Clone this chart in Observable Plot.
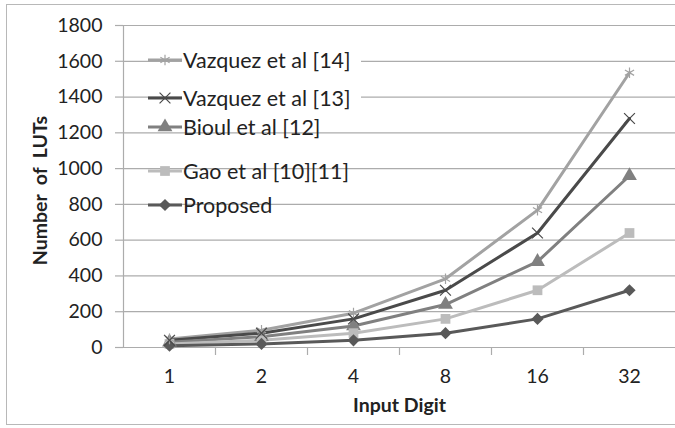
<!DOCTYPE html>
<html>
<head>
<meta charset="utf-8">
<script src="https://cdn.jsdelivr.net/npm/d3@7"></script>
<script src="https://cdn.jsdelivr.net/npm/@observablehq/plot@0.6"></script>
<style>
  html, body { margin: 0; padding: 0; background: #fff; }
  #wrap { position: relative; width: 675px; height: 428px; overflow: hidden; font-family: Lato, "Open Sans", sans-serif; }
  #frame { position: absolute; left: 6px; top: 4px; width: 680px; height: 421px; border: 1.5px solid #b8b8b8; box-sizing: border-box; pointer-events: none; }
  #legend { position: absolute; left: 0; top: 0; }
  .item { position: absolute; display: flex; align-items: center; font-size: 21.5px; color: #222; white-space: nowrap; }
  .item.bg span { background: #fff; }
  .item svg { display: block; }
</style>
</head>
<body>
<div id="wrap"><div id="frame"></div><div id="chart"></div><div id="legend"></div></div>
<script>
const categories = ["1", "2", "4", "8", "16", "32"];
const seriesNames = ["Vazquez et al [14]", "Vazquez et al [13]", "Bioul et al [12]", "Gao et al [10][11]", "Proposed"];
const vazquez14 = [48, 96, 192, 384, 768, 1536];
const vazquez13 = [40, 80, 160, 320, 640, 1280];
const bioul12 = [30, 60, 120, 240, 480, 960];
const gao1011 = [20, 40, 80, 160, 320, 640];
const proposed = [10, 20, 40, 80, 160, 320];
const yTicks = [0, 200, 400, 600, 800, 1000, 1200, 1400, 1600, 1800];

const seriesValues = [vazquez14, vazquez13, bioul12, gao1011, proposed];
const colors = ["#a2a2a2", "#4a4a4a", "#808080", "#bcbcbc", "#595959"];
const symbols = ["asterisk", "times", "triangle", "square", "diamond2"];
const symbolSizes = [5, 5, 5.5, 5.5, 5.5];
const strokeSymbols = new Set(["asterisk", "times"]);

const rows = [];
seriesNames.forEach((s, k) => seriesValues[k].forEach((v, i) => rows.push({series: s, xi: i, y: v, sym: symbols[k]})));
const bounds = categories.slice(1).map((_, i) => i + 0.5);

const chart = Plot.plot({
  width: 675,
  height: 428,
  marginLeft: 123,
  marginRight: 0,
  marginTop: 25,
  marginBottom: 81,
  style: {fontFamily: "Lato, 'Open Sans', sans-serif", fontSize: "19.5px", color: "#222", background: "transparent", overflow: "visible"},
  x: {domain: [-0.5, categories.length - 0.5]},
  y: {domain: [0, 1800]},
  color: {domain: seriesNames, range: colors},
  symbol: {domain: seriesNames, range: symbols},
  marks: [
    Plot.gridY(yTicks, {stroke: "#acacac", strokeOpacity: 1, strokeWidth: 1.2}),
    Plot.axisY(yTicks, {tickSize: 8, tickPadding: 13, tickFormat: d => String(d), stroke: "#acacac", strokeWidth: 1.2, label: null, fill: "#222"}),
    Plot.axisX(d3.range(categories.length), {tickSize: 0, tickPadding: 22, tickFormat: i => categories[i], label: null, fill: "#222"}),
    Plot.axisX(bounds, {tickSize: 8, tickFormat: () => "", stroke: "#acacac", strokeWidth: 1.2, label: null}),
    Plot.ruleY([0], {stroke: "#acacac", strokeWidth: 1.2}),
    Plot.ruleX([-0.5], {stroke: "#acacac", strokeWidth: 1.2}),
    Plot.line(rows, {x: "xi", y: "y", z: "series", stroke: "series", strokeWidth: 3}),
    Plot.dot(rows.filter(d => !strokeSymbols.has(d.sym)), {x: "xi", y: "y", symbol: "series", fill: "series", r: 5.5}),
    Plot.dot(rows.filter(d => strokeSymbols.has(d.sym)), {x: "xi", y: "y", symbol: "series", stroke: "series", r: 5, strokeWidth: 1.2}),
    Plot.text(["Input Digit"], {frameAnchor: "bottom", dy: 64, fontWeight: "bold", fontSize: 19.5, fill: "#222"}),
    Plot.text(["Number  of  LUTs"], {frameAnchor: "left", dx: -83, dy: 4, rotate: -90, fontWeight: "bold", fontSize: 19.5, fill: "#222", textAnchor: "middle"})
  ]
});
chart.querySelectorAll("text").forEach(t => t.setAttribute("xml:space", "preserve"));
chart.style.whiteSpace = "pre";
document.getElementById("chart").appendChild(chart);

// Legend (HTML overlay)
const legendTops = [60, 98, 127, 171, 205];
const leg = document.getElementById("legend");
const d3Symbols = {asterisk: d3.symbolAsterisk, times: d3.symbolTimes, triangle: d3.symbolTriangle, square: d3.symbolSquare, diamond2: d3.symbolDiamond2};
seriesNames.forEach((s, k) => {
  const item = document.createElement("div");
  item.className = "item" + (k < 2 ? " bg" : "");
  item.style.left = "148px";
  item.style.top = (legendTops[k] - 13) + "px";
  item.style.height = "26px";
  const svg = d3.create("svg").attr("width", 34).attr("height", 26);
  svg.append("line").attr("x1", 0).attr("x2", 34).attr("y1", 13).attr("y2", 13).attr("stroke", colors[k]).attr("stroke-width", 3);
  const p = svg.append("path").attr("transform", "translate(17,13)").attr("d", d3.symbol(d3Symbols[symbols[k]], Math.PI * symbolSizes[k] ** 2)());
  if (strokeSymbols.has(symbols[k])) p.attr("fill", "none").attr("stroke", colors[k]).attr("stroke-width", 1.2);
  else p.attr("fill", colors[k]);
  item.appendChild(svg.node());
  const span = document.createElement("span");
  span.textContent = s;
  span.style.paddingLeft = "1px";
  span.style.paddingRight = "10px";
  item.appendChild(span);
  leg.appendChild(item);
});
</script>
</body>
</html>
